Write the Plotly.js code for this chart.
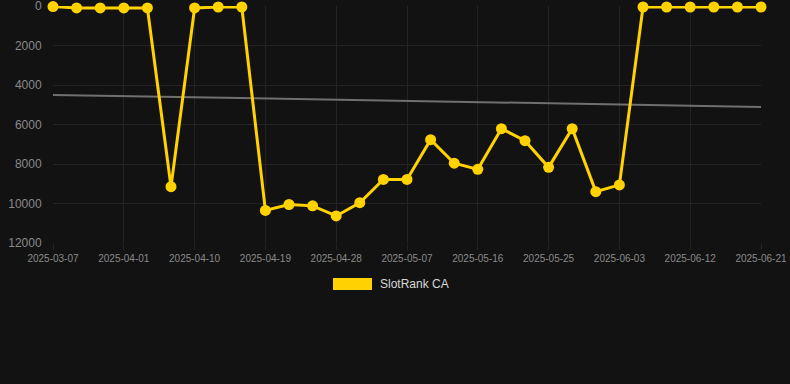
<!DOCTYPE html>
<html>
<head>
<meta charset="utf-8">
<script src="https://cdn.plot.ly/plotly-3.0.1.min.js"></script>
<style>
html,body{margin:0;padding:0;background:#121212;}
#chart{width:790px;height:384px;}
</style>
</head>
<body>
<div id="chart"></div>
<script>
const dates = ["2025-03-07","2025-03-26","2025-03-29","2025-04-01","2025-04-04","2025-04-07","2025-04-10","2025-04-13","2025-04-16","2025-04-19","2025-04-22","2025-04-25","2025-04-28","2025-05-01","2025-05-04","2025-05-07","2025-05-10","2025-05-13","2025-05-16","2025-05-19","2025-05-22","2025-05-25","2025-05-28","2025-05-31","2025-06-03","2025-06-06","2025-06-09","2025-06-12","2025-06-15","2025-06-18","2025-06-21"];
const rank = [30,100,100,100,100,9150,100,50,50,10350,10050,10120,10630,9960,8780,8780,6770,7960,8270,6210,6820,8170,6210,9400,9060,50,50,50,50,50,50];
const trendDates = ["2025-03-07","2025-06-21"];
const trendValues = [4500,5110];
const tickLabels = dates.filter((d,i)=>i%3===0);
const seriesName = "SlotRank CA";
const yTicks = [0,2000,4000,6000,8000,10000,12000];

const gold = "#FFD200";
const grid = "#232323";

const traces = [
  {x: trendDates, y: trendValues, type:"scatter", mode:"lines",
   line:{color:"#707070", width:2}, hoverinfo:"skip", showlegend:false},
  {x: dates, y: rank, type:"scatter", mode:"lines+markers", name: seriesName, cliponaxis:false,
   line:{color:gold, width:3}, marker:{color:gold, size:11}, showlegend:false}
];

const layout = {
  width:790, height:384,
  paper_bgcolor:"#121212", plot_bgcolor:"#121212",
  margin:{l:53, r:29, t:6, b:141},
  font:{family:"Liberation Sans, Arial, sans-serif", color:"#8a8a8a"},
  showlegend:false,
  xaxis:{type:"category", categoryorder:"array", categoryarray:dates,
    range:[0, dates.length-1], tickmode:"array", tickvals:tickLabels, ticktext:tickLabels,
    showgrid:true, gridcolor:grid, gridwidth:1, zeroline:false, showline:false,
    ticks:"outside", ticklen:6, tickcolor:grid, tickangle:0, ticklabeloverflow:"allow",
    tickfont:{size:10, color:"#8a8a8a"}, fixedrange:true},
  yaxis:{range:[12000,0], tickmode:"array", tickvals:yTicks, ticktext:yTicks.map(String),
    showgrid:true, gridcolor:grid, gridwidth:1, zeroline:false, showline:false,
    ticks:"outside", ticklen:8, tickcolor:"rgba(0,0,0,0)", ticklabeloverflow:"allow",
    tickfont:{size:12, color:"#8a8a8a"}, fixedrange:true},
  shapes:[{type:"rect", xref:"paper", yref:"paper",
    x0:(333-53)/708, x1:(372-53)/708, y0:-(278-243)/237, y1:-(290-243)/237,
    fillcolor:gold, line:{width:0}}],
  annotations:[{text:seriesName, xref:"paper", yref:"paper",
    x:(378-53)/708, y:-(284-243)/237, xanchor:"left", yanchor:"middle",
    showarrow:false, font:{size:12, color:"#d8d8d8"}}]
};

Plotly.newPlot("chart", traces, layout, {displayModeBar:false, staticPlot:true});
</script>
</body>
</html>
